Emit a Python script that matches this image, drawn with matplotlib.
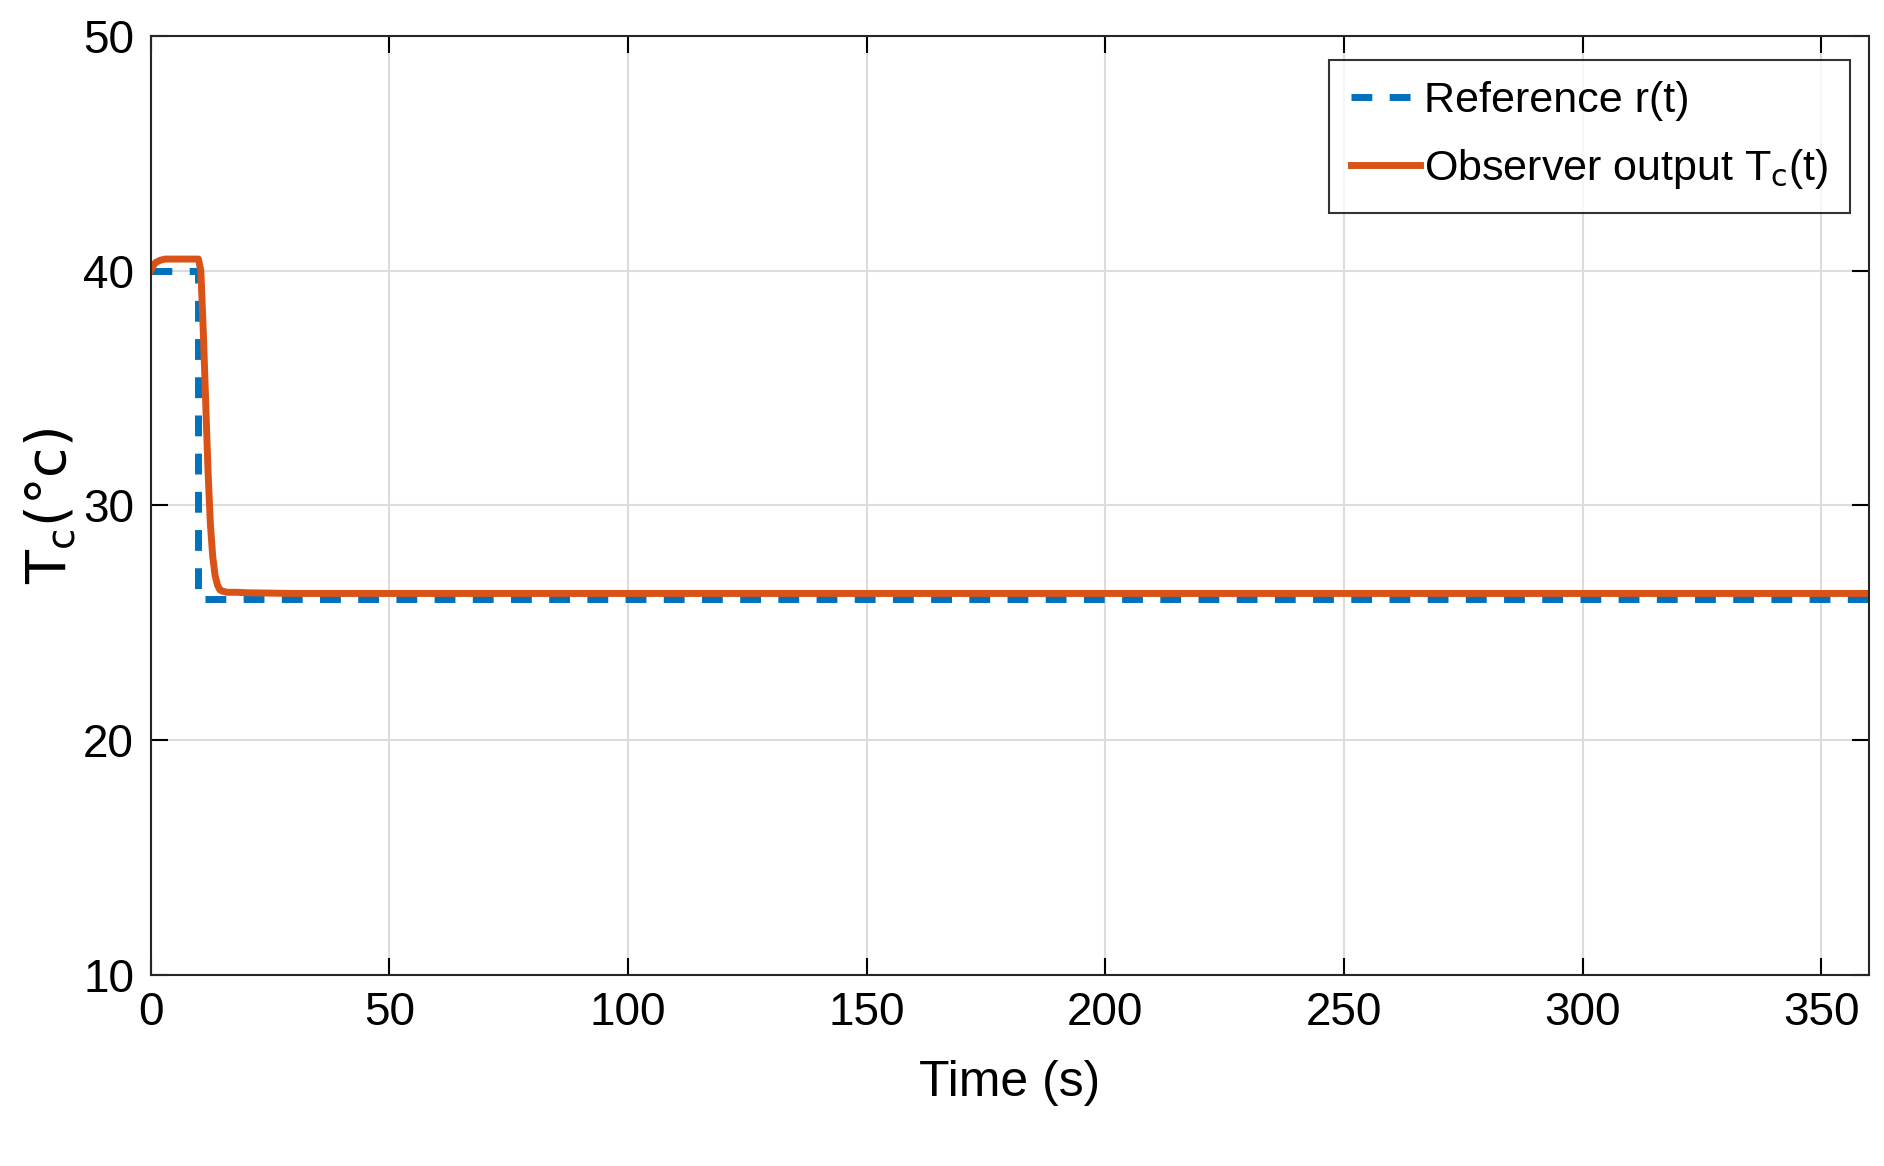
import matplotlib
matplotlib.use("Agg")
import matplotlib.pyplot as plt
import numpy as np

plt.rcParams["font.family"] = ["Liberation Sans Narrow", "Liberation Sans", "DejaVu Sans"]

# reference signal r(t)
ref_t = [0, 10, 10, 360]
ref_v = [40, 40, 26, 26]

# observer output Tc(t)
obs_t = [0, 0.5, 1, 2, 3, 5, 8, 10, 10.5, 11, 11.5, 12, 12.5, 13, 13.5, 14, 14.5, 15, 16, 18, 20, 30, 360]
obs_v = [40.0, 40.2, 40.35, 40.45, 40.5, 40.5, 40.5, 40.5, 40.0, 37.5, 34.5, 31.5, 29.2, 27.8, 27.0, 26.6, 26.4, 26.35, 26.3, 26.3, 26.28, 26.25, 26.25]

fig = plt.figure(figsize=(18.84, 11.66), dpi=100)
ax = fig.add_axes([0.080, 0.164, 0.912, 0.805])
ax.plot(ref_t, ref_v, "--", color="#0072BD", lw=5, dashes=(3, 2.5), label="Reference r(t)")
ax.plot(obs_t, obs_v, "-", color="#D95319", lw=5, label=r"Observer output T$_\mathrm{c}$(t)")

ax.set_xlim(0, 360)
ax.set_ylim(10, 50)
ax.set_xticks(np.arange(0, 351, 50))
ax.set_yticks(np.arange(10, 51, 10))
ax.grid(True, color="#dcdcdc", lw=1.5)
ax.tick_params(labelsize=33, direction="in", length=12, width=1.5, top=True, right=True, pad=12)
for s in ax.spines.values():
    s.set_linewidth(1.5)
    s.set_color("#262626")
ax.set_xlabel("Time (s)", fontsize=36, labelpad=18)
ax.set_ylabel(r"T$_\mathrm{c}$($\degree$c)", fontsize=40, family="DejaVu Sans", labelpad=4)
leg = ax.legend(loc="upper right", fontsize=31, fancybox=False, edgecolor="black",
                handlelength=1.6, handletextpad=0.1, borderaxespad=0.0, borderpad=0.5,
                bbox_to_anchor=(0.989, 0.975), labelspacing=0.6)
leg.get_frame().set_linewidth(1.5)
fig.savefig("out.png", dpi=100)
